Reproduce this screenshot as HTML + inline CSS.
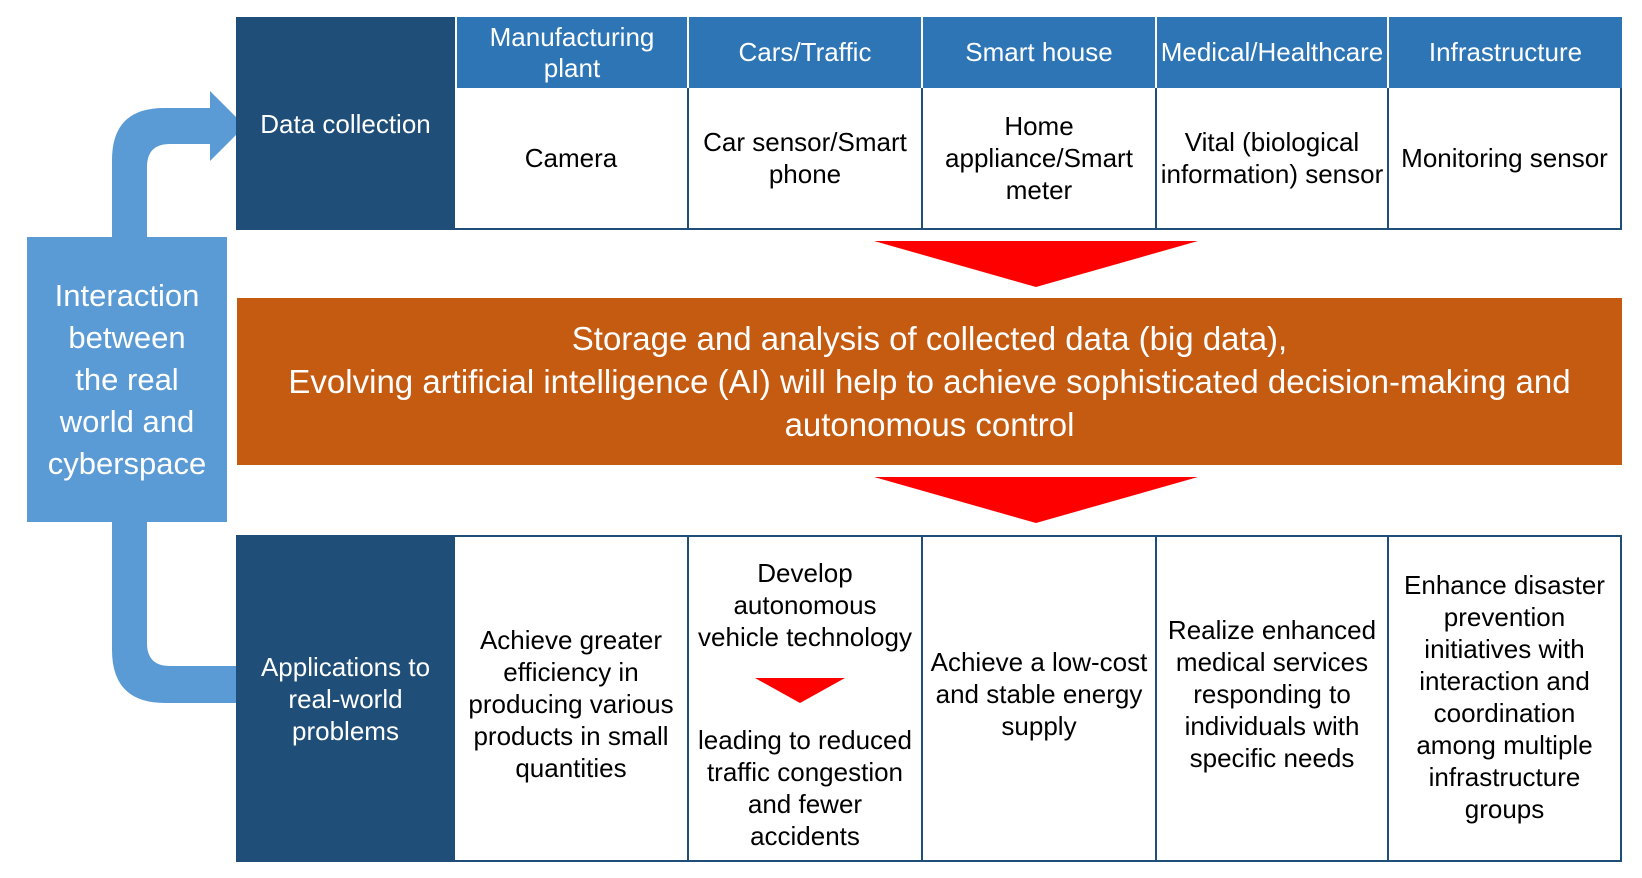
<!DOCTYPE html>
<html><head><meta charset="utf-8"><style>
body{margin:0;width:1642px;height:878px;background:#fff;position:relative;overflow:hidden;font-family:"Liberation Sans",Arial,sans-serif}
.a{position:absolute;box-sizing:border-box;display:flex;align-items:center;justify-content:center;text-align:center}
.dk{background:#1F4E79;color:#fff;font-size:26px;line-height:32px}
.hd{background:#2E75B6;color:#fff;font-size:26px;line-height:31px;border-left:2px solid #fff;white-space:nowrap}
.c{border-left:2px solid #1F4E79;color:#000;font-size:26px;line-height:32px;background:#fff;white-space:nowrap}
</style></head><body>
<svg class="a" style="left:0;top:0" width="260" height="878">
<path d="M112 237 V160 Q112 108 164 108 H210 V91 L245 126 L210 161 V144 H170 Q147 144 147 167 V237 Z" fill="#5B9BD5"/>
<path d="M112 522 V650 Q112 703 165 703 H237 V666 H170 Q147 666 147 643 V522 Z" fill="#5B9BD5"/>
</svg>
<div class="a" style="left:27px;top:237px;width:200px;height:285px;background:#5B9BD5;color:#fff;font-size:31px;line-height:42px">Interaction<br>between<br>the real<br>world and<br>cyberspace</div>
<div class="a" style="left:236px;top:17px;width:1386px;height:213px;border:2px solid #1F4E79;background:#fff"></div>
<div class="a dk" style="left:236px;top:17px;width:219px;height:213px">Data collection</div>
<div class="a hd" style="left:455px;top:17px;width:232px;height:71px">Manufacturing<br>plant</div>
<div class="a hd" style="left:687px;top:17px;width:234px;height:71px">Cars/Traffic</div>
<div class="a hd" style="left:921px;top:17px;width:234px;height:71px">Smart house</div>
<div class="a hd" style="left:1155px;top:17px;width:232px;height:71px">Medical/Healthcare</div>
<div class="a hd" style="left:1387px;top:17px;width:235px;height:71px">Infrastructure</div>
<div class="a c" style="left:455px;top:88px;width:232px;height:140px;border-left:none">Camera</div>
<div class="a c" style="left:687px;top:88px;width:234px;height:140px">Car sensor/Smart<br>phone</div>
<div class="a c" style="left:921px;top:88px;width:234px;height:140px">Home<br>appliance/Smart<br>meter</div>
<div class="a c" style="left:1155px;top:88px;width:232px;height:140px">Vital (biological<br>information) sensor</div>
<div class="a c" style="left:1387px;top:88px;width:233px;height:140px">Monitoring sensor</div>
<svg class="a" style="left:0;top:0" width="1642" height="878">
<polygon points="874,241 1198,241 1036,287" fill="#FF0000"/>
<polygon points="874,477 1198,477 1036,523" fill="#FF0000"/>
</svg>
<div class="a" style="left:237px;top:298px;width:1385px;height:167px;background:#C55A11;color:#fff;font-size:33px;line-height:43px">Storage and analysis of collected data (big data),<br>Evolving artificial intelligence (AI) will help to achieve sophisticated decision-making and<br>autonomous control</div>
<div class="a" style="left:236px;top:535px;width:1386px;height:327px;border:2px solid #1F4E79;background:#fff"></div>
<div class="a dk" style="left:236px;top:535px;width:219px;height:327px">Applications to<br>real-world<br>problems</div>
<div class="a c" style="left:455px;top:537px;width:232px;height:323px;border-left:none;padding-top:10px">Achieve greater<br>efficiency in<br>producing various<br>products in small<br>quantities</div>
<div class="a c" style="left:687px;top:537px;width:234px;height:323px"></div>
<div class="a" style="left:689px;top:557px;width:232px;height:96px;font-size:26px;line-height:32px;white-space:nowrap">Develop<br>autonomous<br>vehicle technology</div>
<svg class="a" style="left:755px;top:678px" width="90" height="25"><polygon points="0,0 90,0 45,25" fill="#FF0000"/></svg>
<div class="a" style="left:689px;top:724px;width:232px;height:128px;font-size:26px;line-height:32px;white-space:nowrap">leading to reduced<br>traffic congestion<br>and fewer<br>accidents</div>
<div class="a c" style="left:921px;top:537px;width:234px;height:323px;padding-bottom:10px">Achieve a low-cost<br>and stable energy<br>supply</div>
<div class="a c" style="left:1155px;top:537px;width:232px;height:323px;padding-bottom:10px">Realize enhanced<br>medical services<br>responding to<br>individuals with<br>specific needs</div>
<div class="a c" style="left:1387px;top:537px;width:233px;height:323px;padding-bottom:4px">Enhance disaster<br>prevention<br>initiatives with<br>interaction and<br>coordination<br>among multiple<br>infrastructure<br>groups</div>
</body></html>
